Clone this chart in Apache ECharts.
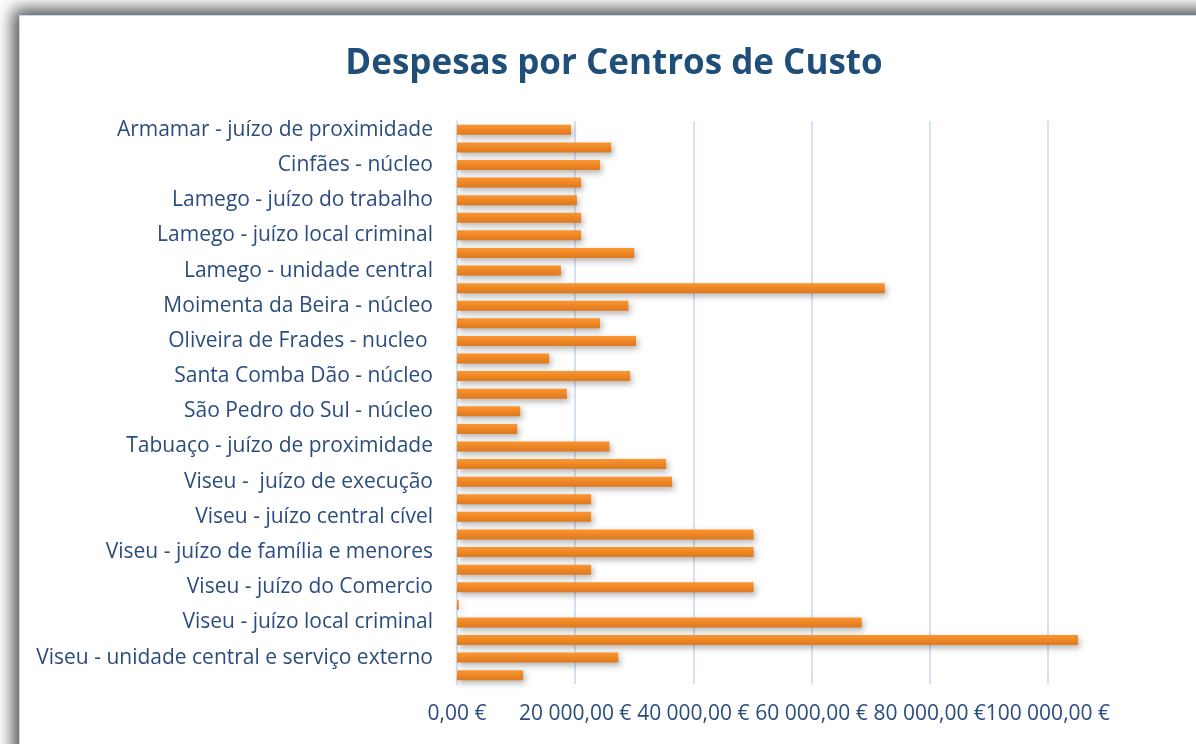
<!DOCTYPE html>
<html>
<head>
<meta charset="utf-8">
<script src="https://cdn.jsdelivr.net/npm/echarts@6/dist/echarts.min.js"></script>
<style>
    body { margin: 0; background: #fff; overflow: hidden; }
    #frame {
        position: absolute; left: 19px; top: 15px; width: 1200px; height: 760px;
        border: 1px solid #c8d8ee; background: #fff;
        box-shadow: 0 0 16px 6px rgba(0, 0, 0, 0.7);
    }
    #graph { position: absolute; left: 0; top: 0; width: 1196px; height: 744px; }
</style>
</head>
<body>
<div id="frame"></div>
<div id="graph"></div>
<script>
// centros de custo, de cima para baixo (só metade dos rótulos aparece no eixo)
const centros = [
    'Armamar - juízo de proximidade',
    'Castro Daire - núcleo',
    'Cinfães - núcleo',
    'Lamego - juízo central',
    'Lamego - juízo do trabalho',
    'Lamego - juízo local cível',
    'Lamego - juízo local criminal',
    'Lamego - ministério público',
    'Lamego - unidade central',
    'Mangualde - núcleo',
    'Moimenta da Beira - núcleo',
    'Nelas - núcleo',
    'Oliveira de Frades - nucleo ',
    'Resende - núcleo',
    'Santa Comba Dão - núcleo',
    'São João da Pesqueira - juízo de proximidade',
    'São Pedro do Sul - núcleo',
    'Sernancelhe - juízo de proximidade',
    'Tabuaço - juízo de proximidade',
    'Tondela - núcleo',
    'Viseu -  juízo de execução',
    'Viseu - juízo central criminal',
    'Viseu - juízo central cível',
    'Viseu - juízo de comércio',
    'Viseu - juízo de família e menores',
    'Viseu - juízo do trabalho',
    'Viseu - juízo do Comercio',
    'Viseu - juízo local cível',
    'Viseu - juízo local criminal',
    'Viseu - ministério público',
    'Viseu - unidade central e serviço externo',
    'Vouzela - núcleo'
];

const despesas = [
    19300, 26100, 24200, 21000, 20300, 21000, 21000, 30000,
    17600, 72400, 29000, 24200, 30300, 15600, 29300, 18600,
    10700, 10200, 25800, 35400, 36400, 22700, 22700, 50200,
    50200, 22700, 50200, 300, 68500, 105100, 27300, 11200
];

const eixoMax = 120000;
const eixoPasso = 20000;

function euros(v) {
    let s = Math.round(v).toString().replace(/\B(?=(\d{3})+(?!\d))/g, ' ');
    return s + ',00 €';
}

let myChart = echarts.init(document.getElementById('graph'));
myChart.setOption({
    animation: false,
    title: {
        text: 'Despesas por Centros de Custo',
        left: 609, top: 42, textAlign: 'center',
        textStyle: { fontFamily: 'Open Sans', fontWeight: 'bold', fontSize: 35, color: '#1f4e79' }
    },
    grid: { left: 457, right: 30, top: 121, bottom: 60, containLabel: false },
    xAxis: {
        type: 'value',
        min: 0, max: eixoMax, interval: eixoPasso,
        axisLine: { show: false },
        axisTick: { show: false },
        splitLine: { show: true, showMaxLine: false, lineStyle: { color: '#d4e2f5', width: 2 } },
        axisLabel: {
            showMaxLabel: false,
            margin: 20,
            fontFamily: 'Open Sans', fontSize: 21, color: '#2b4c7e',
            formatter: v => euros(v)
        }
    },
    yAxis: {
        type: 'category',
        inverse: true,
        data: centros,
        axisLine: { show: true, lineStyle: { color: '#d4e2f5', width: 2 } },
        axisTick: { show: false },
        axisLabel: {
            interval: 1,
            margin: 24,
            padding: [3, 0, 0, 0],
            fontFamily: 'Open Sans', fontSize: 21, color: '#2b4c7e'
        }
    },
    series: [{
        type: 'bar',
        data: despesas,
        barWidth: 10,
        itemStyle: {
            color: new echarts.graphic.LinearGradient(0, 0, 0, 1, [
                { offset: 0, color: '#fa962f' },
                { offset: 1, color: '#e0781d' }
            ]),
            shadowColor: 'rgba(0, 0, 0, 0.3)',
            shadowBlur: 6,
            shadowOffsetX: 2,
            shadowOffsetY: 3
        }
    }]
});
</script>
</body>
</html>
